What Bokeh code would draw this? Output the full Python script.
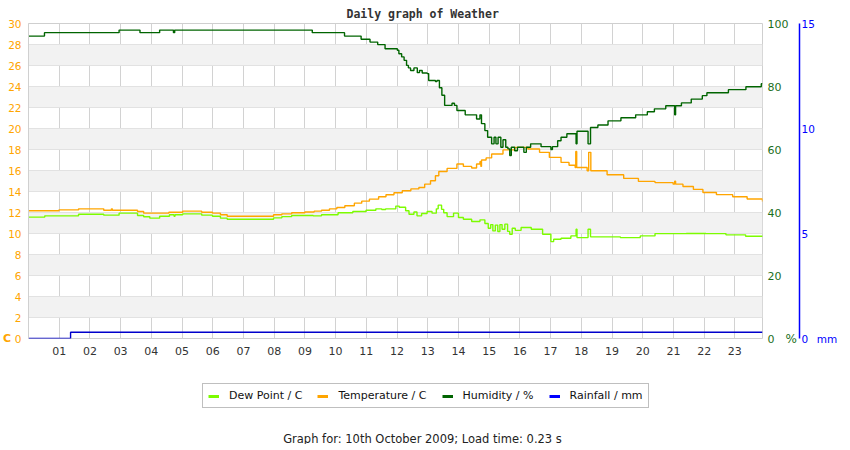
from bokeh.plotting import figure
from bokeh.layouts import column
from bokeh.models import Range1d, LinearAxis, FixedTicker, Legend, LegendItem, Label
from bokeh.embed import file_html
from bokeh.resources import INLINE

# hours of the day shown on the x axis
hours = list(range(1, 24))
hour_labels = ["%02d" % h for h in hours]

temp_ticks = list(range(0, 31, 2))
hum_ticks = [0, 20, 40, 60, 80, 100]
rain_ticks = [0, 5, 10, 15]

# temperature, C (time of change in hours, new value)
temp_t = [0.00, 0.99, 1.63, 2.45, 2.70, 2.73, 3.55, 3.75, 4.57, 5.02, 5.64, 5.99, 6.25, 6.47,
          7.98, 8.25, 8.57, 9.00, 9.30, 9.54, 9.80, 10.04, 10.30, 10.61, 10.85, 11.10, 11.40,
          11.64, 11.90, 12.17, 12.45, 12.71, 12.90, 13.09, 13.25, 13.36, 13.63, 13.95, 14.16,
          14.43, 14.59, 14.70, 14.73, 14.75, 14.90, 15.08, 15.45, 15.83, 16.26, 16.64, 16.96,
          17.34, 17.60, 17.80, 17.82, 17.85, 18.19, 18.24, 18.31, 18.84, 19.38, 19.86, 20.40,
          20.99, 21.04, 21.07, 21.31, 21.65, 21.96, 22.40, 22.93, 23.40, 23.90]
temp_c = [12.16, 12.25, 12.35, 12.22, 12.35, 12.22, 12.10, 11.94, 12.03, 12.13, 12.03, 11.94,
          11.78, 11.65, 11.78, 11.87, 11.97, 12.05, 12.13, 12.22, 12.35, 12.47, 12.65, 12.89,
          13.08, 13.27, 13.50, 13.69, 13.88, 14.07, 14.25, 14.38, 14.70, 15.02, 15.50, 15.91,
          16.20, 16.62, 16.39, 16.24, 16.62, 16.85, 16.39, 17.00, 17.20, 17.57, 17.96, 18.20,
          18.05, 17.73, 17.25, 16.77, 16.50, 16.29, 17.82, 16.29, 15.98, 17.73, 15.98, 15.60,
          15.25, 14.96, 14.85, 14.70, 14.98, 14.70, 14.48, 14.20, 13.91, 13.70, 13.50, 13.28,
          13.05]

# dew point, C
dew_t = [0.00, 0.53, 1.63, 2.45, 2.95, 3.55, 3.75, 3.95, 4.27, 4.59, 4.74, 4.77, 5.02, 5.64,
         5.99, 6.25, 6.47, 7.98, 8.25, 8.57, 9.27, 9.54, 10.08, 10.56, 10.99, 11.31, 11.50,
         11.63, 11.96, 12.07, 12.28, 12.39, 12.55, 12.65, 12.80, 12.98, 13.14, 13.28, 13.34,
         13.45, 13.52, 13.63, 13.84, 14.00, 14.16, 14.43, 14.70, 14.86, 14.97, 15.05, 15.12,
         15.20, 15.28, 15.35, 15.42, 15.51, 15.60, 15.67, 15.75, 15.85, 16.04, 16.37, 16.74,
         17.01, 17.10, 17.34, 17.66, 17.83, 17.86, 18.22, 18.30, 19.27, 19.92, 20.40, 21.42,
         22.06, 22.71, 23.35, 23.90]
dew_c = [11.56, 11.68, 11.84, 11.75, 11.94, 11.71, 11.59, 11.46, 11.65, 11.78, 11.65, 11.78,
         11.87, 11.75, 11.65, 11.46, 11.36, 11.49, 11.61, 11.71, 11.68, 11.78, 11.97, 12.10,
         12.22, 12.35, 12.28, 12.35, 12.61, 12.50, 12.16, 11.84, 12.05, 11.68, 11.90, 12.10,
         11.94, 12.35, 12.70, 12.30, 11.97, 11.61, 11.94, 11.52, 11.36, 11.14, 11.30, 10.95,
         10.50, 10.85, 10.25, 10.80, 10.19, 10.85, 10.40, 10.89, 10.20, 9.93, 10.50, 10.30,
         10.57, 10.41, 9.93, 9.23, 9.45, 9.55, 9.77, 10.41, 9.61, 10.41, 9.68, 9.61, 9.77,
         9.99, 10.00, 9.99, 9.87, 9.74, 9.71]

# humidity, %
hum_t = [0.00, 0.52, 2.95, 3.63, 4.27, 4.72, 4.76, 9.24, 10.29, 10.83, 11.12, 11.37, 11.61,
         12.01, 12.06, 12.15, 12.23, 12.31, 12.37, 12.44, 12.55, 12.66, 12.73, 12.82, 12.98,
         13.03, 13.25, 13.30, 13.38, 13.46, 13.55, 13.79, 13.87, 13.95, 14.22, 14.59, 14.70,
         14.75, 14.86, 14.95, 15.08, 15.16, 15.22, 15.29, 15.38, 15.45, 15.54, 15.61, 15.67,
         15.72, 15.83, 15.92, 16.13, 16.21, 16.35, 16.69, 17.01, 17.06, 17.23, 17.34, 17.53,
         17.83, 17.86, 18.22, 18.30, 18.54, 18.87, 19.29, 19.77, 20.15, 20.38, 20.75, 21.04,
         21.07, 21.26, 21.58, 21.94, 22.09, 22.79, 23.36, 23.86, 23.90]
hum_pc = [96.0, 97.1, 97.9, 97.1, 97.9, 97.1, 97.9, 97.1, 96.0, 95.0, 94.1, 93.3, 92.0,
          91.5, 90.4, 89.4, 88.3, 86.7, 85.9, 85.1, 85.9, 84.4, 85.1, 84.3, 84.1, 81.9,
          81.6, 81.9, 79.6, 77.2, 74.0, 74.7, 74.0, 72.4, 71.0, 69.7, 71.0, 68.2, 66.0,
          63.9, 61.8, 63.9, 61.8, 63.9, 60.7, 63.1, 60.7, 60.2, 58.1, 60.7, 59.6, 60.7,
          59.1, 60.7, 61.8, 60.9, 60.0, 60.9, 62.8, 63.9, 65.0, 61.8, 65.8, 61.8, 67.0,
          67.8, 69.1, 70.1, 71.0, 72.0, 72.9, 73.9, 71.0, 73.9, 74.8, 76.0, 77.1, 78.0,
          79.0, 79.9, 80.9, 80.9]

# rainfall, mm
rain_t = [0.00, 1.37, 23.90]
rain_mm = [0.0, 0.3, 0.3]

FONT = "DejaVu Sans"
COLORS = {"dew": "#7cfc00", "temp": "#ffa500", "hum": "#006400", "rain": "#0000ff"}
W = 841

chart = figure(width=W, height=362, output_backend="svg", toolbar_location=None,
               x_range=Range1d(0, 23.9), y_range=Range1d(0, 30),
               min_border_left=22, min_border_right=79, min_border_top=23,
               min_border_bottom=24)
chart.extra_y_ranges = {"hum": Range1d(0, 100), "rain": Range1d(0, 15)}
chart.outline_line_color = "#cfcfcf"

chart.title.text = "Daily graph of Weather"
chart.title.align = "left"
chart.title.offset = 318
chart.title.standoff = 6
chart.title.text_font = "DejaVu Sans Mono"
chart.title.text_font_style = "bold"
chart.title.text_font_size = "11.5px"
chart.title.text_color = "#333333"

# grid
chart.xgrid.ticker = FixedTicker(ticks=hours)
chart.xgrid.grid_line_color = "#d2d2d2"
chart.ygrid.ticker = FixedTicker(ticks=temp_ticks)
chart.ygrid.grid_line_color = "#e2e2e2"
chart.ygrid.band_fill_color = "#f2f2f2"
chart.ygrid.band_fill_alpha = 1.0


def plain(axis):
    axis.major_tick_out = 0
    axis.major_tick_in = 0
    axis.minor_tick_out = 0
    axis.minor_tick_in = 0
    axis.major_tick_line_color = None
    axis.minor_tick_line_color = None


# x axis
xa = chart.xaxis[0]
plain(xa)
xa.ticker = FixedTicker(ticks=hours)
xa.major_label_overrides = dict(zip(hours, hour_labels))
xa.axis_line_color = None
xa.major_label_standoff = 8
xa.major_label_text_font = FONT
xa.major_label_text_font_size = "11px"
xa.major_label_text_color = "#333333"

# temperature axis (left)
ya = chart.yaxis[0]
plain(ya)
ya.ticker = FixedTicker(ticks=temp_ticks)
ya.axis_line_color = "#d0d0d0"
ya.major_label_standoff = 7
ya.major_label_text_font = FONT
ya.major_label_text_font_size = "10.5px"
ya.major_label_text_color = "#ffa500"
ya.axis_label = "C"
ya.axis_label_orientation = "horizontal"
ya.axis_label_align = "start"
ya.axis_label_standoff = -6
ya.axis_label_text_font = FONT
ya.axis_label_text_font_style = "bold"
ya.axis_label_text_font_size = "11px"
ya.axis_label_text_color = "#ffa500"

# humidity axis (right)
hum_axis = LinearAxis(y_range_name="hum", ticker=FixedTicker(ticks=hum_ticks),
                      axis_line_color=None, major_label_standoff=5,
                      major_label_text_font=FONT, major_label_text_font_size="11px",
                      major_label_text_color="#1c6f1c",
                      axis_label="%", axis_label_orientation="horizontal",
                      axis_label_align="start", axis_label_standoff=-6,
                      axis_label_text_font=FONT, axis_label_text_font_style="normal",
                      axis_label_text_font_size="12px", axis_label_text_color="#1c6f1c")
plain(hum_axis)
chart.add_layout(hum_axis, "right")

rain_axis = LinearAxis(y_range_name="rain", ticker=FixedTicker(ticks=rain_ticks),
                       axis_line_color=COLORS["rain"], axis_line_width=1.5,
                       major_label_standoff=2, major_label_text_font=FONT,
                       major_label_text_font_size="10.5px",
                       major_label_text_color=COLORS["rain"],
                       axis_label="mm", axis_label_orientation="horizontal",
                       axis_label_align="start", axis_label_standoff=-1,
                       axis_label_text_font=FONT, axis_label_text_font_style="normal",
                       axis_label_text_font_size="10.5px",
                       axis_label_text_color=COLORS["rain"])
plain(rain_axis)
chart.add_layout(rain_axis, "right")

# series
chart.step(dew_t, dew_c, mode="after", line_color=COLORS["dew"], line_width=1.4)
chart.step(temp_t, temp_c, mode="after", line_color=COLORS["temp"], line_width=1.4)
chart.step(hum_t, hum_pc, mode="after", line_color=COLORS["hum"], line_width=1.4,
           y_range_name="hum")
chart.step(rain_t, rain_mm, mode="after", line_color="#0000cc", line_width=1.4,
           y_range_name="rain")

# strip under the chart holding the legend and the footer line; its y range lies
# far above the data, so the series drawn here only serve as legend swatches
foot = figure(width=W, height=82, output_backend="svg", toolbar_location=None,
              x_range=Range1d(0, 24), y_range=Range1d(500, 600),
              x_axis_type=None, y_axis_type=None, min_border=0)
foot.outline_line_color = None
foot.grid.visible = False

sw_dew = foot.step(dew_t, dew_c, line_color=COLORS["dew"], line_width=3)
sw_temp = foot.step(temp_t, temp_c, line_color=COLORS["temp"], line_width=3)
sw_hum = foot.step(hum_t, hum_pc, line_color=COLORS["hum"], line_width=3)
sw_rain = foot.step(rain_t, rain_mm, line_color=COLORS["rain"], line_width=3)

legend = Legend(items=[
    LegendItem(label="Dew Point / C", renderers=[sw_dew]),
    LegendItem(label="Temperature / C", renderers=[sw_temp]),
    LegendItem(label="Humidity / %", renderers=[sw_hum]),
    LegendItem(label="Rainfall / mm", renderers=[sw_rain]),
], orientation="horizontal", location=(174, 36), padding=5, spacing=15, margin=0,
    label_standoff=10, glyph_width=11, glyph_height=10,
    label_text_font=FONT, label_text_font_size="11px", label_text_color="#111111",
    border_line_color="#808080", border_line_width=1, background_fill_alpha=1.0)
foot.add_layout(legend, "center")

foot.add_layout(Label(x=394, y=6, x_units="screen", y_units="screen",
                      text="Graph for: 10th October 2009; Load time: 0.23 s",
                      text_align="center", text_baseline="middle", text_font=FONT,
                      text_font_size="11.5px", text_color="#222222"))

p = column(chart, foot, spacing=0)

open("out.html", "w").write(file_html(p, INLINE))
